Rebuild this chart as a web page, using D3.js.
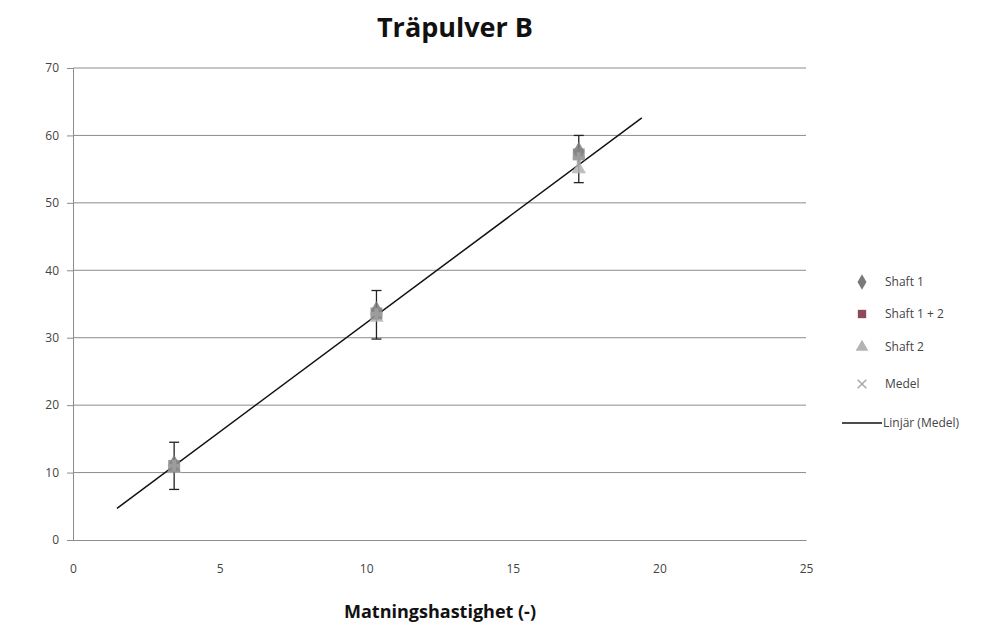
<!DOCTYPE html>
<html lang="sv">
<head>
<meta charset="utf-8">
<title>Träpulver B</title>
<style>
  body { margin: 0; background: #ffffff; }
  text { font-family: "Open Sans", "DejaVu Sans", sans-serif; }
  .tick text { fill: #444; font-size: 12px; }
</style>
<script src="https://cdn.jsdelivr.net/npm/d3@7"></script>
</head>
<body>
<div id="chart"></div>
<script>
// ---------------- data ----------------
var xValues   = [3.45, 10.35, 17.25];
var shaft1    = [11.2, 34.0, 57.6];
var shaft12   = [11.0, 33.6, 57.2];
var shaft2    = [10.6, 33.0, 55.0];
var medel     = [11.0, 33.5, 56.6];
var errLow    = [7.5, 29.8, 53.0];
var errHigh   = [14.5, 37.0, 60.0];
var trendLine = [[1.5, 4.7], [19.4, 62.6]];
var xTicks    = [0, 5, 10, 15, 20, 25];
var yTicks    = [0, 10, 20, 30, 40, 50, 60, 70];
var legendNames = ["Shaft 1", "Shaft 1 + 2", "Shaft 2", "Medel", "Linjär (Medel)"];

var width = 1008, height = 628;
var margin = {top: 68, right: 202, bottom: 88, left: 73};

var svg = d3.select("#chart").append("svg")
    .attr("width", width)
    .attr("height", height);

var x = d3.scaleLinear().domain([0, 25]).range([margin.left, width - margin.right]);
var y = d3.scaleLinear().domain([0, 70]).range([height - margin.bottom, margin.top]);

// gridlines
svg.append("g")
    .selectAll("line")
    .data(yTicks.slice(1))
    .join("line")
    .attr("x1", x(0)).attr("x2", x(25))
    .attr("y1", d => y(d)).attr("y2", d => y(d))
    .attr("stroke", "#8c8c8c").attr("stroke-width", 1);

// y axis
var yAxis = svg.append("g")
    .attr("transform", "translate(" + x(0) + ",0)")
    .call(d3.axisLeft(y).tickValues(yTicks).tickSize(6).tickPadding(8));
yAxis.select(".domain").attr("stroke", "#8c8c8c");
yAxis.selectAll(".tick line").attr("stroke", "#8c8c8c");

// x axis
var xAxis = svg.append("g")
    .attr("transform", "translate(0," + y(0) + ")")
    .call(d3.axisBottom(x).tickValues(xTicks).tickSize(0).tickPadding(24));
xAxis.select(".domain").attr("stroke", "#8c8c8c");

// title and axis title
svg.append("text")
    .attr("x", 455).attr("y", 37)
    .attr("text-anchor", "middle")
    .attr("font-size", "27px").attr("font-weight", "bold")
    .attr("fill", "#111")
    .text("Träpulver B");

svg.append("text")
    .attr("x", 440).attr("y", 618)
    .attr("text-anchor", "middle")
    .attr("font-size", "18px").attr("font-weight", "bold")
    .attr("fill", "#111")
    .text("Matningshastighet (-)");

// trend line
svg.append("line")
    .attr("x1", x(trendLine[0][0])).attr("y1", y(trendLine[0][1]))
    .attr("x2", x(trendLine[1][0])).attr("y2", y(trendLine[1][1]))
    .attr("stroke", "#111").attr("stroke-width", 1.5);

// error bars
var eb = svg.append("g").attr("stroke", "#222").attr("stroke-width", 1.3);
xValues.forEach(function(v, i) {
  eb.append("line").attr("x1", x(v)).attr("x2", x(v))
    .attr("y1", y(errLow[i])).attr("y2", y(errHigh[i]));
  eb.append("line").attr("x1", x(v) - 5).attr("x2", x(v) + 5)
    .attr("y1", y(errLow[i])).attr("y2", y(errLow[i]));
  eb.append("line").attr("x1", x(v) - 5).attr("x2", x(v) + 5)
    .attr("y1", y(errHigh[i])).attr("y2", y(errHigh[i]));
});

// markers
var series = [
  {vals: shaft2,  sym: d3.symbolTriangle, fill: "#b4b4b4", size: 90},
  {vals: shaft1,  sym: d3.symbolDiamond,  fill: "#7a7a7a", size: 110},
  {vals: shaft12, sym: d3.symbolSquare,   fill: "#858585", size: 140},
  {vals: medel,   sym: d3.symbolCross,    fill: "#a0a0a0", size: 80}
];
series.forEach(function(s) {
  svg.append("g").selectAll("path")
    .data(s.vals)
    .join("path")
    .attr("d", d3.symbol().type(s.sym).size(s.size))
    .attr("transform", (d, i) => "translate(" + x(xValues[i]) + "," + y(d) + ")")
    .attr("fill", s.fill)
    .attr("opacity", 0.85);
});

// legend
var legendColors = ["#7a7a7a", "#8e4a5a", "#b4b4b4", "#a8a8a8"];
var legendSyms = [d3.symbolDiamond, d3.symbolSquare, d3.symbolTriangle, d3.symbolX];
var legendY = [282, 314, 347, 384, 423];
var lg = svg.append("g");
legendNames.forEach(function(name, i) {
  if (i < 4) {
    lg.append("path")
      .attr("d", d3.symbol().type(legendSyms[i]).size(i == 3 ? 50 : 70))
      .attr("transform", "translate(862," + legendY[i] + ")")
      .attr("fill", i == 3 ? "none" : legendColors[i])
      .attr("stroke", i == 3 ? legendColors[i] : "none")
      .attr("stroke-width", 1.5);
  } else {
    lg.append("line")
      .attr("x1", 842).attr("x2", 882)
      .attr("y1", legendY[i]).attr("y2", legendY[i])
      .attr("stroke", "#111").attr("stroke-width", 1.5);
  }
  lg.append("text")
    .attr("x", i < 4 ? 885 : 883).attr("y", legendY[i] + 4)
    .attr("font-size", "12px").attr("fill", "#444")
    .text(name);
});
</script>
</body>
</html>
